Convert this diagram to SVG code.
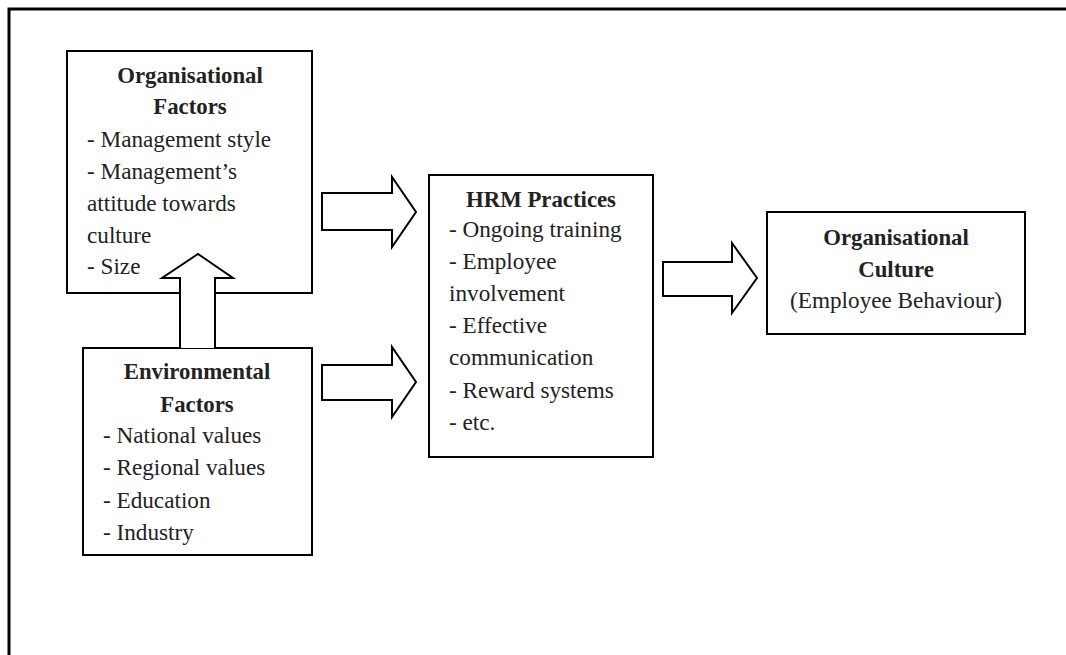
<svg xmlns="http://www.w3.org/2000/svg" width="1066" height="655" viewBox="0 0 1066 655">
<style>
.box{fill:#fff;stroke:#000;stroke-width:2}
.arr{fill:#fff;stroke:#000;stroke-width:2;stroke-linejoin:miter}
text{font-family:"Liberation Serif","Times New Roman",serif;font-size:23.2px;fill:#222}
.b{font-weight:bold;font-size:22.8px;text-anchor:middle}
.c{text-anchor:middle}
</style>
<rect width="1066" height="655" fill="#fff"/>
<path d="M9,655 V9 H1066" fill="none" stroke="#000" stroke-width="3"/>
<g id="org-factors">
<rect class="box" x="67" y="51" width="245" height="242"/>
<text class="b" x="190" y="83">Organisational</text>
<text class="b" x="190" y="114">Factors</text>
<text x="87" y="147">- Management style</text>
<text x="87" y="179">- Management’s</text>
<text x="87" y="211">attitude towards</text>
<text x="87" y="243">culture</text>
<text x="87" y="274">- Size</text>
</g>
<g id="env-factors">
<rect class="box" x="83" y="348" width="229" height="207"/>
<text class="b" x="197" y="379">Environmental</text>
<text class="b" x="197" y="412">Factors</text>
<text x="103" y="443">- National values</text>
<text x="103" y="475">- Regional values</text>
<text x="103" y="508">- Education</text>
<text x="103" y="540">- Industry</text>
</g>
<g id="hrm">
<rect class="box" x="429" y="175" width="224" height="282"/>
<text class="b" x="541" y="207">HRM Practices</text>
<text x="449" y="237">- Ongoing training</text>
<text x="449" y="269">- Employee</text>
<text x="449" y="301">involvement</text>
<text x="449" y="333">- Effective</text>
<text x="449" y="365">communication</text>
<text x="449" y="398">- Reward systems</text>
<text x="449" y="430">- etc.</text>
</g>
<g id="culture">
<rect class="box" x="767" y="212" width="258" height="122"/>
<text class="b" x="896" y="245">Organisational</text>
<text class="b" x="896" y="277">Culture</text>
<text class="c" x="896" y="308">(Employee Behaviour)</text>
</g>
<g id="connectors">
<path class="arr" d="M180,348 V278 H162 L198,254 L233,278 H215 V348"/>
<path class="arr" d="M322,193 H392 V177 L416,212 L392,247 V230 H322 Z"/>
<path class="arr" d="M322,365 H392 V347 L416,382 L392,417 V400 H322 Z"/>
<path class="arr" d="M663,262 H732 V243 L757,278 L732,313 V296 H663 Z"/>
</g>
</svg>
